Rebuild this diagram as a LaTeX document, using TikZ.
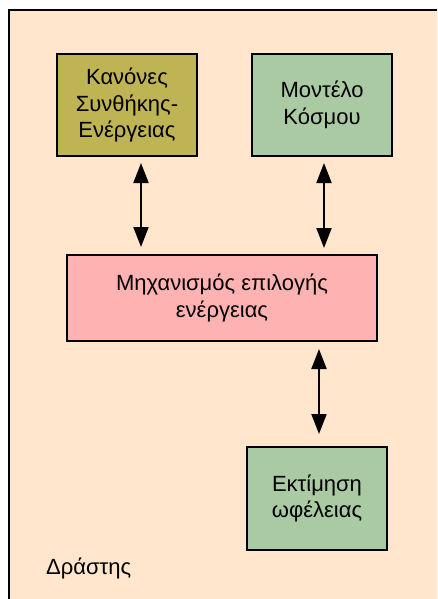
\documentclass[tikz,border=0pt]{standalone}
\usepackage{fontspec}
\setmainfont{Liberation Sans}
\usetikzlibrary{arrows.meta,positioning,calc}
\definecolor{peach}{HTML}{FFE6CC}
\definecolor{olivebox}{HTML}{BFB453}
\definecolor{sagebox}{HTML}{AACAA4}
\definecolor{pinkbox}{HTML}{FFB2B2}
\tikzset{
  unit/.style={draw, line width=2pt, minimum width=140pt, minimum height=102pt, inner sep=0pt, align=center, font=\fontsize{22}{26.5}\selectfont},
  link/.style={{Triangle[length=20pt,width=15pt]}-{Triangle[length=20pt,width=15pt]}, line width=2pt}
}
\begin{document}
\begin{tikzpicture}[x=1pt,y=-1pt]
  \useasboundingbox (0,0) rectangle (437,599);
  % agent frame
  \begin{scope}
    \clip (0,0) rectangle (437,599);
    \fill[white] (0,0) rectangle (437,599);
    \draw[line width=2pt, fill=peach] (9,10) rectangle (450,615);
  \end{scope}
  % boxes
  \node[unit, fill=olivebox] (rules) at (127,105) {Κανόνες\\Συνθήκης-\\Ενέργειας};
  \node[unit, fill=sagebox] (world) at (322,105) {Μοντέλο\\Κόσμου};
  \node[unit, fill=pinkbox, minimum width=310pt, minimum height=86pt] (mech) at (222,298) {Μηχανισμός επιλογής\\ενέργειας};
  \node[unit, fill=sagebox, minimum height=103pt] (util) at (317,498.5) {Εκτίμηση\\ωφέλειας};
  \node[anchor=west, inner sep=0pt, font=\fontsize{22}{26.5}\selectfont] (agent) at (46,568) {Δράστης};
  % links
  \draw[link, shorten <=6pt, shorten >=7pt] ([xshift=14pt]rules.south) -- ([xshift=14pt]rules.south |- mech.north);
  \draw[link, shorten <=6pt, shorten >=6pt] ([xshift=2pt]world.south) -- ([xshift=2pt]world.south |- mech.north);
  \draw[link, shorten <=7pt, shorten >=12pt] ([xshift=2pt]util.north |- mech.south) -- ([xshift=2pt]util.north);
\end{tikzpicture}
\end{document}
